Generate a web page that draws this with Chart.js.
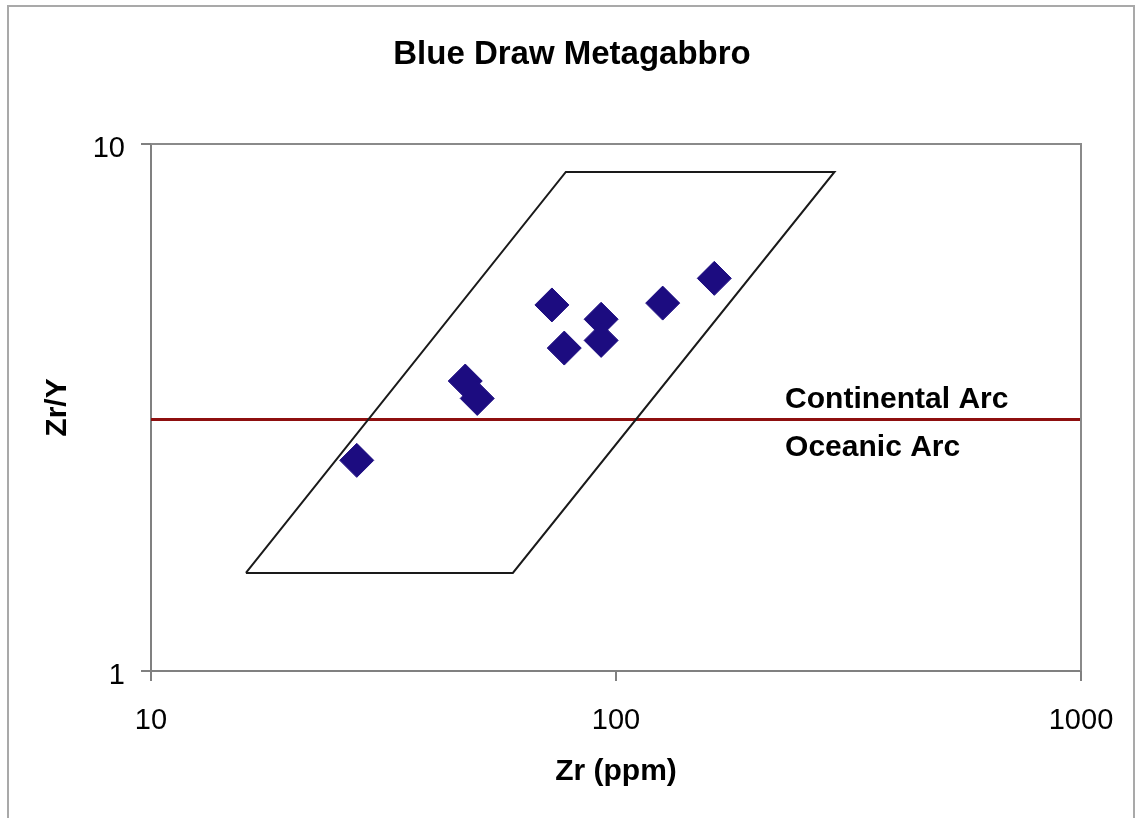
<!DOCTYPE html>
<html>
<head>
<meta charset="utf-8">
<title>Blue Draw Metagabbro</title>
<script src="https://cdn.jsdelivr.net/npm/chart.js@4"></script>
<style>
  body { margin: 0; background: #fff; }
  canvas { display: block; }
</style>
</head>
<body>
<canvas id="zrChart" width="1139" height="818"></canvas>
<script>
// sample values
var zrValues = [27.7, 47.4, 50.3, 72.8, 77.4, 92.9, 92.9, 126, 162.7];
var zrYValues = [2.51, 3.55, 3.29, 4.95, 4.10, 4.65, 4.24, 4.99, 5.56];

// parallelogram field outline
var fieldZr = [16, 60, 295, 78, 16];
var fieldZrY = [1.535, 1.535, 8.85, 8.85, 1.535];

// continental / oceanic arc divide
var divideZr = [10, 1000];
var divideZrY = [3, 3];
var arcLabels = ["Continental Arc", "Oceanic Arc"];
var arcLabelZr = 231;

// axis ticks
var xTicks = [10, 100, 1000];
var yTicks = [1, 10];

var chartTitle = "Blue Draw Metagabbro";
var FONT = "'Liberation Sans', Arial, sans-serif";

function toPoints(xs, ys) {
  var pts = [];
  for (var i = 0; i < xs.length; i++) {
    pts.push({ x: xs[i], y: ys[i] });
  }
  return pts;
}

// outer frame, plot frame, title and the arc labels
var framePlugin = {
  id: "frame",
  beforeDraw: function (chart) {
    var ctx = chart.ctx;
    ctx.save();
    ctx.strokeStyle = "#a9a9a9";
    ctx.lineWidth = 2;
    ctx.strokeRect(8, 6, 1126, 900);
    ctx.restore();
  },
  afterDatasetsDraw: function (chart) {
    var ctx = chart.ctx;
    var a = chart.chartArea;
    ctx.save();
    ctx.strokeStyle = "#8a8a8a";
    ctx.lineWidth = 2;
    ctx.beginPath();
    ctx.moveTo(a.left, a.top);
    ctx.lineTo(a.right, a.top);
    ctx.lineTo(a.right, a.bottom);
    ctx.stroke();

    // title is centred on the whole frame, not the plot
    ctx.fillStyle = "#000";
    ctx.font = "bold 33px " + FONT;
    ctx.textAlign = "center";
    ctx.textBaseline = "alphabetic";
    ctx.fillText(chartTitle, 572, 64);

    var x = chart.scales.x.getPixelForValue(arcLabelZr);
    var y = chart.scales.y.getPixelForValue(divideZrY[0]);
    ctx.font = "bold 30px " + FONT;
    ctx.textAlign = "left";
    ctx.fillText(arcLabels[0], x, y - 12);
    ctx.fillText(arcLabels[1], x, y + 36);
    ctx.restore();
  }
};

var axisColor = "#808080";

var ctx = document.getElementById("zrChart").getContext("2d");
var chart = new Chart(ctx, {
  type: "scatter",
  data: {
    datasets: [{
      label: "Samples",
      data: toPoints(zrValues, zrYValues),
      pointStyle: "rectRot",
      pointRadius: 17,
      pointHoverRadius: 17,
      backgroundColor: "#1c0c80",
      borderColor: "#1c0c80",
      borderWidth: 1
    }, {
      label: "Field",
      data: toPoints(fieldZr, fieldZrY),
      showLine: true,
      pointRadius: 0,
      borderColor: "#1a1a1a",
      borderWidth: 2,
      fill: false
    }, {
      label: "Divide",
      data: toPoints(divideZr, divideZrY),
      showLine: true,
      pointRadius: 0,
      borderColor: "#8e0f0f",
      borderWidth: 3,
      fill: false
    }]
  },
  options: {
    responsive: false,
    animation: false,
    layout: { padding: { left: 0, right: 58, top: 144, bottom: 0 } },
    plugins: {
      legend: { display: false },
      tooltip: { enabled: false },
      title: { display: false }
    },
    scales: {
      x: {
        type: "logarithmic",
        min: 10,
        max: 1000,
        afterBuildTicks: function (scale) {
          scale.ticks = xTicks.map(function (v) { return { value: v }; });
        },
        afterFit: function (scale) { scale.height = 147; },
        ticks: {
          color: "#000",
          font: { family: FONT, size: 29 },
          padding: 23,
          maxRotation: 0,
          callback: function (v) { return String(v); }
        },
        grid: {
          drawOnChartArea: false,
          drawTicks: true,
          tickLength: 10,
          color: axisColor,
          lineWidth: 2
        },
        border: { color: axisColor, width: 2 },
        title: {
          display: true,
          text: "Zr (ppm)",
          color: "#000",
          font: { family: FONT, size: 30, weight: "bold" },
          padding: { top: 0, bottom: 28 }
        }
      },
      y: {
        type: "logarithmic",
        min: 1,
        max: 10,
        afterBuildTicks: function (scale) {
          scale.ticks = yTicks.map(function (v) { return { value: v }; });
        },
        afterFit: function (scale) { scale.width = 151; },
        ticks: {
          color: "#000",
          font: { family: FONT, size: 29 },
          padding: 16,
          labelOffset: 5,
          callback: function (v) { return String(v); }
        },
        grid: {
          drawOnChartArea: false,
          drawTicks: true,
          tickLength: 10,
          color: axisColor,
          lineWidth: 2
        },
        border: { color: axisColor, width: 2 },
        title: {
          display: true,
          text: "Zr/Y",
          color: "#000",
          font: { family: FONT, size: 30, weight: "bold" },
          padding: { top: 40, bottom: 0 }
        }
      }
    }
  },
  plugins: [framePlugin]
});
</script>
</body>
</html>
